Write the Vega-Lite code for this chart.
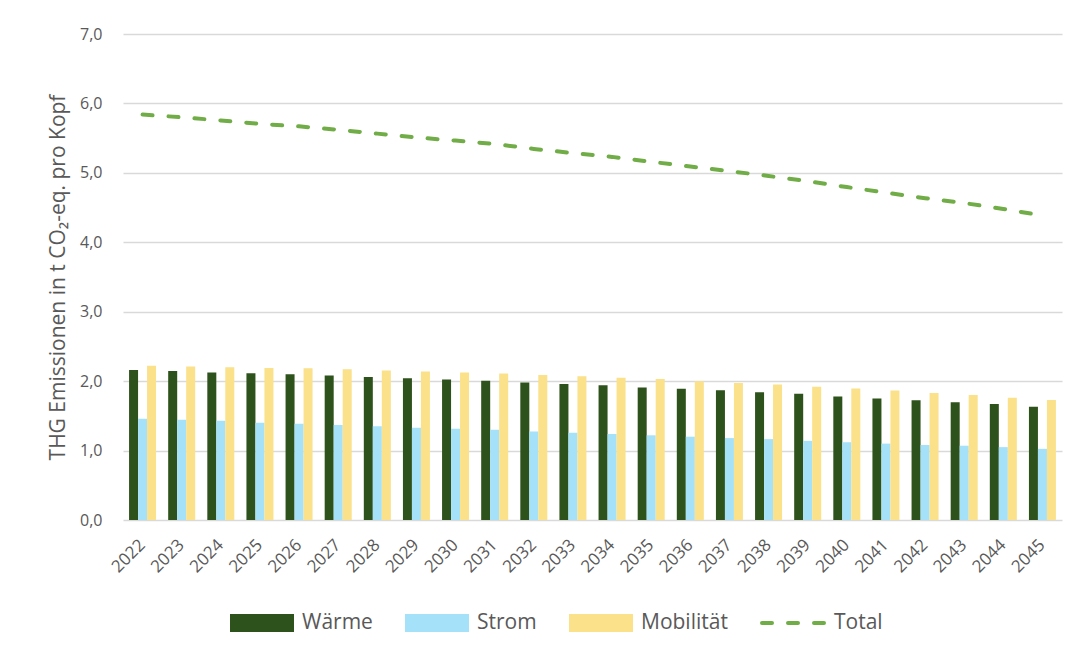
{
  "$schema": "https://vega.github.io/schema/vega-lite/v6.json",
  "autosize": "none",
  "padding": {"left": 123, "top": 34, "right": 14, "bottom": 134},
  "width": 939,
  "height": 486,
  "background": "white",
  "config": {
    "view": {"stroke": null},
    "font": "Open Sans",
    "axis": {"labelColor": "#595959", "titleColor": "#595959", "labelFont": "Open Sans", "titleFont": "Open Sans"}
  },
  "datasets": {
    "bars": [
      {"Jahr": "2022", "Sektor": "Wärme", "Wert": 2.16}, {"Jahr": "2022", "Sektor": "Strom", "Wert": 1.46}, {"Jahr": "2022", "Sektor": "Mobilität", "Wert": 2.22},
      {"Jahr": "2023", "Sektor": "Wärme", "Wert": 2.145}, {"Jahr": "2023", "Sektor": "Strom", "Wert": 1.445}, {"Jahr": "2023", "Sektor": "Mobilität", "Wert": 2.21},
      {"Jahr": "2024", "Sektor": "Wärme", "Wert": 2.125}, {"Jahr": "2024", "Sektor": "Strom", "Wert": 1.43}, {"Jahr": "2024", "Sektor": "Mobilität", "Wert": 2.2},
      {"Jahr": "2025", "Sektor": "Wärme", "Wert": 2.115}, {"Jahr": "2025", "Sektor": "Strom", "Wert": 1.4}, {"Jahr": "2025", "Sektor": "Mobilität", "Wert": 2.19},
      {"Jahr": "2026", "Sektor": "Wärme", "Wert": 2.1}, {"Jahr": "2026", "Sektor": "Strom", "Wert": 1.385}, {"Jahr": "2026", "Sektor": "Mobilität", "Wert": 2.185},
      {"Jahr": "2027", "Sektor": "Wärme", "Wert": 2.08}, {"Jahr": "2027", "Sektor": "Strom", "Wert": 1.37}, {"Jahr": "2027", "Sektor": "Mobilität", "Wert": 2.17},
      {"Jahr": "2028", "Sektor": "Wärme", "Wert": 2.06}, {"Jahr": "2028", "Sektor": "Strom", "Wert": 1.35}, {"Jahr": "2028", "Sektor": "Mobilität", "Wert": 2.155},
      {"Jahr": "2029", "Sektor": "Wärme", "Wert": 2.04}, {"Jahr": "2029", "Sektor": "Strom", "Wert": 1.33}, {"Jahr": "2029", "Sektor": "Mobilität", "Wert": 2.14},
      {"Jahr": "2030", "Sektor": "Wärme", "Wert": 2.025}, {"Jahr": "2030", "Sektor": "Strom", "Wert": 1.315}, {"Jahr": "2030", "Sektor": "Mobilität", "Wert": 2.125},
      {"Jahr": "2031", "Sektor": "Wärme", "Wert": 2.005}, {"Jahr": "2031", "Sektor": "Strom", "Wert": 1.3}, {"Jahr": "2031", "Sektor": "Mobilität", "Wert": 2.11},
      {"Jahr": "2032", "Sektor": "Wärme", "Wert": 1.98}, {"Jahr": "2032", "Sektor": "Strom", "Wert": 1.275}, {"Jahr": "2032", "Sektor": "Mobilität", "Wert": 2.09},
      {"Jahr": "2033", "Sektor": "Wärme", "Wert": 1.96}, {"Jahr": "2033", "Sektor": "Strom", "Wert": 1.255}, {"Jahr": "2033", "Sektor": "Mobilität", "Wert": 2.07},
      {"Jahr": "2034", "Sektor": "Wärme", "Wert": 1.94}, {"Jahr": "2034", "Sektor": "Strom", "Wert": 1.24}, {"Jahr": "2034", "Sektor": "Mobilität", "Wert": 2.05},
      {"Jahr": "2035", "Sektor": "Wärme", "Wert": 1.91}, {"Jahr": "2035", "Sektor": "Strom", "Wert": 1.22}, {"Jahr": "2035", "Sektor": "Mobilität", "Wert": 2.03},
      {"Jahr": "2036", "Sektor": "Wärme", "Wert": 1.89}, {"Jahr": "2036", "Sektor": "Strom", "Wert": 1.2}, {"Jahr": "2036", "Sektor": "Mobilität", "Wert": 2.0},
      {"Jahr": "2037", "Sektor": "Wärme", "Wert": 1.87}, {"Jahr": "2037", "Sektor": "Strom", "Wert": 1.18}, {"Jahr": "2037", "Sektor": "Mobilität", "Wert": 1.975},
      {"Jahr": "2038", "Sektor": "Wärme", "Wert": 1.84}, {"Jahr": "2038", "Sektor": "Strom", "Wert": 1.165}, {"Jahr": "2038", "Sektor": "Mobilität", "Wert": 1.95},
      {"Jahr": "2039", "Sektor": "Wärme", "Wert": 1.82}, {"Jahr": "2039", "Sektor": "Strom", "Wert": 1.14}, {"Jahr": "2039", "Sektor": "Mobilität", "Wert": 1.92},
      {"Jahr": "2040", "Sektor": "Wärme", "Wert": 1.78}, {"Jahr": "2040", "Sektor": "Strom", "Wert": 1.12}, {"Jahr": "2040", "Sektor": "Mobilität", "Wert": 1.895},
      {"Jahr": "2041", "Sektor": "Wärme", "Wert": 1.75}, {"Jahr": "2041", "Sektor": "Strom", "Wert": 1.1}, {"Jahr": "2041", "Sektor": "Mobilität", "Wert": 1.865},
      {"Jahr": "2042", "Sektor": "Wärme", "Wert": 1.725}, {"Jahr": "2042", "Sektor": "Strom", "Wert": 1.08}, {"Jahr": "2042", "Sektor": "Mobilität", "Wert": 1.83},
      {"Jahr": "2043", "Sektor": "Wärme", "Wert": 1.695}, {"Jahr": "2043", "Sektor": "Strom", "Wert": 1.07}, {"Jahr": "2043", "Sektor": "Mobilität", "Wert": 1.8},
      {"Jahr": "2044", "Sektor": "Wärme", "Wert": 1.67}, {"Jahr": "2044", "Sektor": "Strom", "Wert": 1.05}, {"Jahr": "2044", "Sektor": "Mobilität", "Wert": 1.76},
      {"Jahr": "2045", "Sektor": "Wärme", "Wert": 1.63}, {"Jahr": "2045", "Sektor": "Strom", "Wert": 1.025}, {"Jahr": "2045", "Sektor": "Mobilität", "Wert": 1.73}
    ],
    "total": [
      {"Jahr": "2022", "Sektor": "Total", "Wert": 5.84},
      {"Jahr": "2023", "Sektor": "Total", "Wert": 5.8},
      {"Jahr": "2024", "Sektor": "Total", "Wert": 5.755},
      {"Jahr": "2025", "Sektor": "Total", "Wert": 5.705},
      {"Jahr": "2026", "Sektor": "Total", "Wert": 5.67},
      {"Jahr": "2027", "Sektor": "Total", "Wert": 5.62},
      {"Jahr": "2028", "Sektor": "Total", "Wert": 5.565},
      {"Jahr": "2029", "Sektor": "Total", "Wert": 5.51},
      {"Jahr": "2030", "Sektor": "Total", "Wert": 5.465},
      {"Jahr": "2031", "Sektor": "Total", "Wert": 5.415},
      {"Jahr": "2032", "Sektor": "Total", "Wert": 5.345},
      {"Jahr": "2033", "Sektor": "Total", "Wert": 5.285},
      {"Jahr": "2034", "Sektor": "Total", "Wert": 5.23},
      {"Jahr": "2035", "Sektor": "Total", "Wert": 5.16},
      {"Jahr": "2036", "Sektor": "Total", "Wert": 5.09},
      {"Jahr": "2037", "Sektor": "Total", "Wert": 5.025},
      {"Jahr": "2038", "Sektor": "Total", "Wert": 4.955},
      {"Jahr": "2039", "Sektor": "Total", "Wert": 4.88},
      {"Jahr": "2040", "Sektor": "Total", "Wert": 4.795},
      {"Jahr": "2041", "Sektor": "Total", "Wert": 4.715},
      {"Jahr": "2042", "Sektor": "Total", "Wert": 4.635},
      {"Jahr": "2043", "Sektor": "Total", "Wert": 4.565},
      {"Jahr": "2044", "Sektor": "Total", "Wert": 4.48},
      {"Jahr": "2045", "Sektor": "Total", "Wert": 4.385}
    ]
  },
  "encoding": {
    "x": {
      "field": "Jahr", "type": "nominal", "title": null,
      "scale": {"paddingInner": 0.31, "paddingOuter": 0.155},
      "axis": {"labelAngle": -45, "labelAlign": "right", "labelBaseline": "middle", "labelFontSize": 17, "labelPadding": 22, "ticks": false, "domain": false, "grid": false}
    },
    "y": {
      "field": "Wert", "type": "quantitative",
      "title": "THG Emissionen in t CO₂-eq. pro Kopf",
      "scale": {"domain": [0, 7], "nice": false},
      "axis": {
        "values": [0, 1, 2, 3, 4, 5, 6, 7],
        "labelExpr": "replace(format(datum.value, '.1f'), '.', ',')",
        "labelFontSize": 16, "labelPadding": 21, "ticks": false, "domain": false,
        "grid": true, "gridColor": "#D9D9D9", "gridWidth": 1.5,
        "titleFontSize": 21, "titleFontWeight": "normal", "titlePadding": 11
      }
    },
    "color": {
      "field": "Sektor", "type": "nominal",
      "scale": {"domain": ["Wärme", "Strom", "Mobilität", "Total"], "range": ["#2E521B", "#A6E1FA", "#FAE18A", "#70AD47"]},
      "legend": {
        "orient": "none", "legendX": 105, "legendY": 555, "direction": "horizontal", "title": null,
        "symbolSize": 4096, "symbolType": "M-0.9375,-0.21875H0.9375V0.21875H-0.9375Z", "symbolStrokeWidth": 4,
        "labelFontSize": 21, "labelColor": "#595959", "labelFont": "Open Sans", "labelOffset": 6, "columnPadding": 26,
        "encode": {
          "symbols": {
            "update": {
              "shape": {"signal": "datum.value == 'Total' ? 'M-1,-0.21875M-1,0.21875M-1,0H1' : 'M-0.9375,-0.21875H0.9375V0.21875H-0.9375Z'"},
              "fill": {"signal": "datum.value == 'Total' ? 'transparent' : scale('color', datum.value)"},
              "stroke": {"signal": "scale('color', datum.value)"},
              "strokeWidth": {"value": 4},
              "strokeDash": {"signal": "datum.value == 'Total' ? [10, 16] : [1000, 0]"},
              "strokeCap": {"signal": "datum.value == 'Total' ? 'round' : 'butt'"},
              "strokeJoin": {"value": "miter"},
              "opacity": {"value": 1},
              "fillOpacity": {"value": 1},
              "strokeOpacity": {"value": 1}
            }
          }
        }
      }
    }
  },
  "layer": [
    {
      "data": {"name": "bars"},
      "mark": {"type": "bar"},
      "encoding": {
        "xOffset": {"field": "Sektor", "type": "nominal", "sort": ["Wärme", "Strom", "Mobilität"], "scale": {"paddingInner": 0, "paddingOuter": 0}}
      }
    },
    {
      "data": {"name": "total"},
      "mark": {"type": "line", "strokeWidth": 4, "strokeDash": [10, 16], "strokeCap": "round"},
      "encoding": {}
    }
  ]
}
